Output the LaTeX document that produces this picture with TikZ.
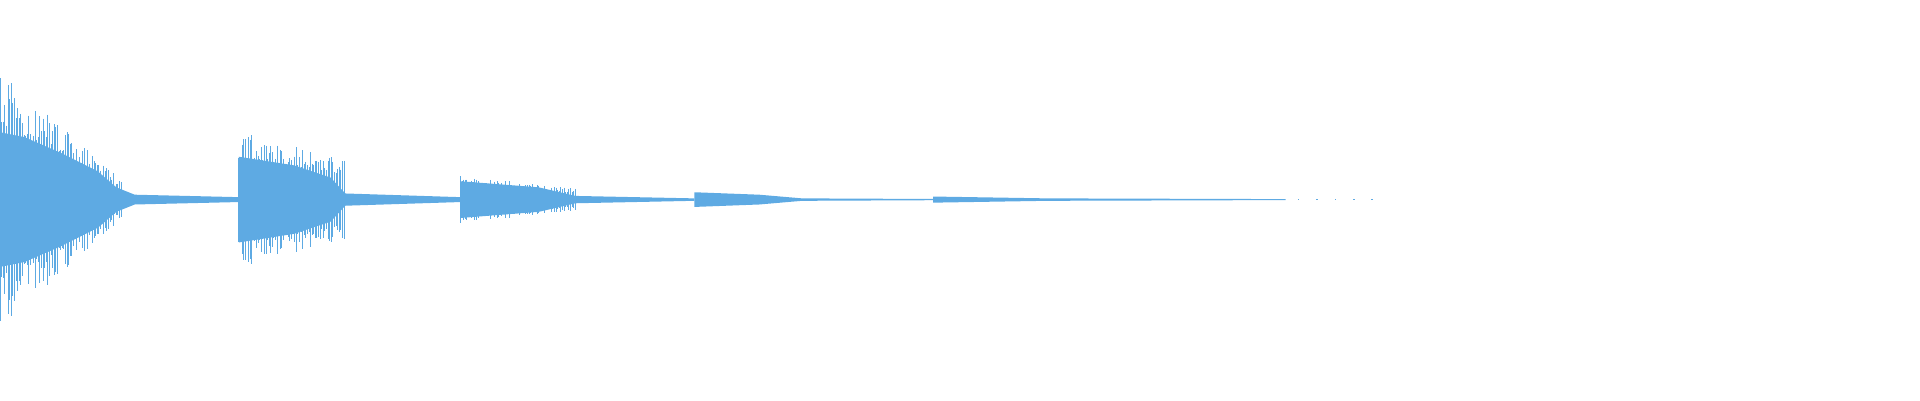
\documentclass[tikz,border=0pt]{standalone}
\definecolor{wav}{RGB}{94,170,227}
\begin{document}
\begin{tikzpicture}[x=1pt,y=-1pt,wl/.style={draw=wav,line width=0.5pt}]
\useasboundingbox (0,0) rectangle (1568,327);
\pgfmathsetseed{7}
% burst 1 core
\fill[wav] (0,108) -- (20,112) -- (50,125) -- (80,140) -- (95,153) -- (110,159) -- (195,161) -- (195,165) -- (110,167) -- (95,173) -- (80,186) -- (50,201) -- (20,214) -- (0,218) -- cycle;
\foreach \x in {0,1.3,...,100}{
  \pgfmathsetmacro\a{(105-0.9*\x)*(0.55+0.45*rnd)}
  \draw[wl] (\x,163-\a) -- (\x,163+\a);}
% burst 2
\fill[wav] (195,128) -- (240,135) -- (270,145) -- (282,158) -- (376,161) -- (376,165) -- (282,168) -- (270,181) -- (240,191) -- (195,198) -- cycle;
\foreach \x in {195,196.3,...,282}{
  \pgfmathsetmacro\a{(55-0.25*(\x-195))*(0.6+0.4*rnd)}
  \draw[wl] (\x,163-\a) -- (\x,163+\a);}
% burst 3
\fill[wav] (376,148) -- (440,153) -- (470,160) -- (567,162) -- (567,164) -- (470,166) -- (440,173) -- (376,178) -- cycle;
\foreach \x in {376,377.3,...,470}{
  \pgfmathsetmacro\a{(20-0.12*(\x-376))*(0.6+0.4*rnd)}
  \draw[wl] (\x,163-\a) -- (\x,163+\a);}
% burst 4
\fill[wav] (567,157) -- (620,159) -- (655,162) -- (762,162.5) -- (762,163.5) -- (655,164) -- (620,167) -- (567,169) -- cycle;
% burst 5
\fill[wav] (762,160.5) -- (855,162) -- (1050,162.6) -- (1050,163.4) -- (855,164) -- (762,165.5) -- cycle;
\foreach \x in {1060,1075,...,1120}{\fill[wav] (\x,162.5) rectangle (\x+1.2,163.5);}
\end{tikzpicture}
\end{document}
